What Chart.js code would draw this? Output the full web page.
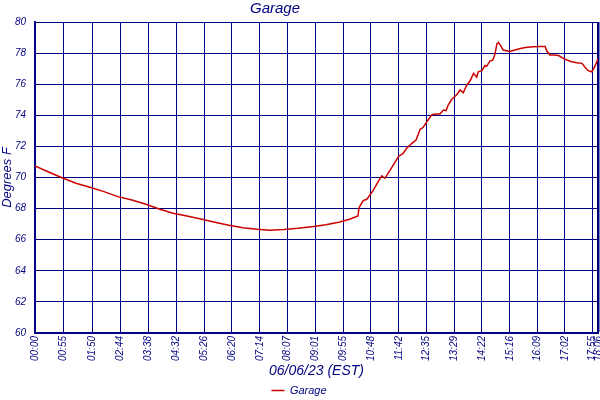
<!DOCTYPE html>
<html>
<head>
<meta charset="utf-8">
<script src="https://cdn.jsdelivr.net/npm/chart.js@4/dist/chart.umd.min.js"></script>
<style>
  html, body { margin: 0; padding: 0; background: #fff; }
  canvas { display: block; }
</style>
</head>
<body>
<canvas id="myChart" width="600" height="400"></canvas>
<script>
// x tick labels (time of day) as printed under the axis
const tickLabels = ['00:00', '00:55', '01:50', '02:44', '03:38', '04:32', '05:26', '06:20', '07:14', '08:07',
    '09:01', '09:55', '10:48', '11:42', '12:35', '13:29', '14:22', '15:16', '16:09', '17:02', '17:55', '18:06'];

// readings: minutes after midnight, temperature (deg F)
const minutes = [0, 25, 52, 79, 106, 133, 160, 187, 214, 241, 266, 293, 320, 347, 374, 401, 428, 453, 480, 507,
    534, 561, 588, 608, 623, 625, 633, 640, 643, 653, 662, 669, 675, 685, 694, 701, 710, 717, 727, 735,
    743, 749, 756, 765, 772, 781, 788, 793, 797, 804, 813, 820, 826, 833, 839, 846, 852, 855, 862, 868,
    871, 878, 883, 887, 891, 894, 898, 903, 910, 916, 926, 936, 949, 961, 974, 984, 987, 993, 1003, 1011,
    1019, 1026, 1035, 1045, 1055, 1061, 1067, 1074, 1078, 1084, 1086];
const degrees = [70.75, 70.37, 69.98, 69.63, 69.37, 69.09, 68.77, 68.55, 68.28, 67.96, 67.70, 67.52, 67.33, 67.12, 66.93, 66.77, 66.67, 66.60, 66.65, 66.73,
    66.84, 66.96, 67.14, 67.33, 67.52, 68.05, 68.51, 68.60, 68.73, 69.20, 69.73, 70.10, 69.95, 70.48, 70.95, 71.34, 71.55, 71.88, 72.20, 72.41,
    73.10, 73.23, 73.59, 74.02, 74.08, 74.08, 74.34, 74.30, 74.66, 75.03, 75.30, 75.63, 75.45, 75.95, 76.20, 76.70, 76.45, 76.80, 76.87, 77.20,
    77.15, 77.50, 77.55, 77.90, 78.59, 78.69, 78.50, 78.20, 78.15, 78.10, 78.20, 78.30, 78.37, 78.41, 78.42, 78.42, 78.15, 77.88, 77.88, 77.83,
    77.66, 77.56, 77.45, 77.38, 77.34, 77.09, 76.87, 76.80, 77.02, 77.45, 77.66];

const navy = '#000080';
const tickMinutes = tickLabels.map(t => {
    const [h, m] = t.split(':');
    return Number(h) * 60 + Number(m);
});

function italic(size) {
    return { family: "'Liberation Sans', Arial, sans-serif", size: size, style: 'italic', weight: 'normal' };
}

// the original title sits a bit left of the canvas centre
const shiftTitle = {
    id: 'shiftTitle',
    afterLayout(chart) {
        const t = chart.titleBlock;
        if (t) {
            t.right = t.left + 550;
            t.width = 550;
        }
    }
};

const ctx = document.getElementById('myChart');
new Chart(ctx, {
    type: 'line',
    data: {
        datasets: [{
            label: 'Garage',
            data: minutes.map((m, i) => ({ x: m, y: degrees[i] })),
            borderColor: '#cc0000',
            backgroundColor: '#cc0000',
            borderWidth: 1.5,
            pointRadius: 0,
            tension: 0,
            fill: false
        }]
    },
    plugins: [shiftTitle],
    options: {
        responsive: false,
        animation: false,
        devicePixelRatio: 1,
        layout: { padding: { left: 0, right: 2, top: 0, bottom: -6 } },
        plugins: {
            title: {
                display: true,
                text: 'Garage',
                color: navy,
                font: italic(15),
                padding: { top: 0, bottom: 4 }
            },
            legend: {
                position: 'bottom',
                labels: {
                    color: navy,
                    font: italic(11),
                    usePointStyle: true,
                    pointStyle: 'line',
                    pointStyleWidth: 13,
                    padding: 1
                }
            },
            tooltip: { enabled: false }
        },
        scales: {
            x: {
                type: 'linear',
                min: 0,
                max: tickMinutes[tickMinutes.length - 1],
                afterBuildTicks: (scale) => {
                    scale.ticks = tickMinutes.map(v => ({ value: v }));
                },
                afterFit: (scale) => {
                    scale.height = 51;
                    scale.paddingLeft = 0;
                    scale.paddingRight = 0;
                },
                ticks: {
                    autoSkip: false,
                    minRotation: 90,
                    maxRotation: 90,
                    padding: 3,
                    color: navy,
                    font: italic(10),
                    callback: (v, i) => tickLabels[i]
                },
                grid: {
                    color: navy,
                    lineWidth: (c) => c.index === tickLabels.length - 1 ? 2.5 : 1,
                    drawTicks: false
                },
                border: { color: navy, width: 2 },
                title: {
                    display: true,
                    text: '06/06/23 (EST)',
                    color: navy,
                    font: italic(14),
                    padding: { top: 0, bottom: 4 }
                }
            },
            y: {
                min: 60,
                max: 80,
                afterFit: (scale) => {
                    scale.width = 35;
                },
                ticks: {
                    stepSize: 2,
                    padding: 9,
                    color: navy,
                    font: italic(10)
                },
                grid: {
                    color: navy,
                    lineWidth: 1,
                    drawTicks: false
                },
                border: { color: navy, width: 2 },
                title: {
                    display: true,
                    text: 'Degrees F',
                    color: navy,
                    font: italic(13),
                    padding: { top: 0, bottom: 0 }
                }
            }
        }
    }
});
</script>
</body>
</html>
